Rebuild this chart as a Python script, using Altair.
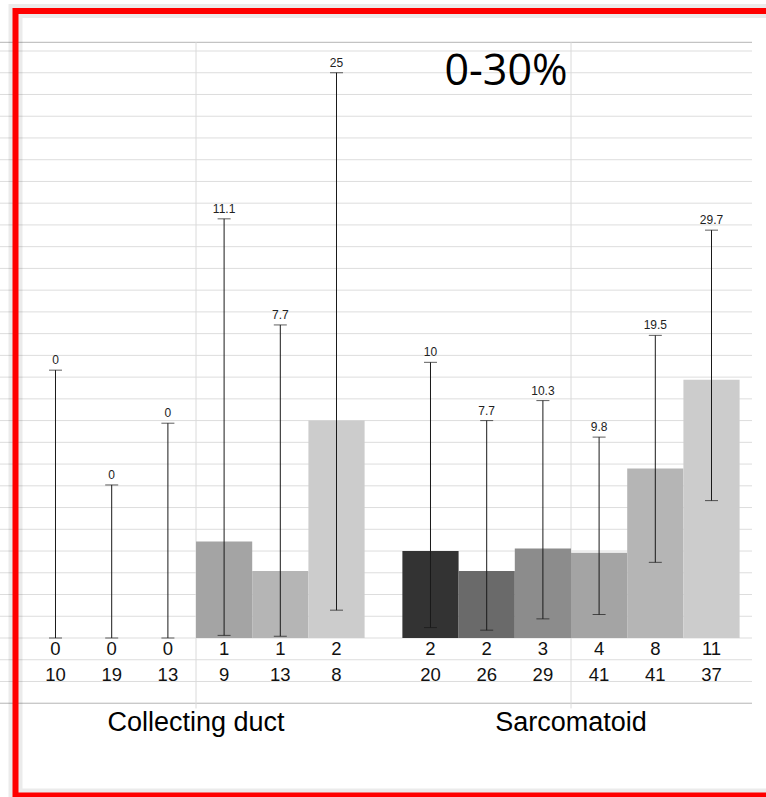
import altair as alt
import numpy as np
import pandas as pd

# Groups and per-bar values (percent, counts and 95% CI bounds)
groups = ["Collecting duct", "Sarcomatoid"]

cd_events = [0, 0, 0, 1, 1, 2]
cd_totals = [10, 19, 13, 9, 13, 8]
cd_pct = [0, 0, 0, 11.1, 7.7, 25]
cd_lo = [0, 0, 0, 0.3, 0.2, 3.2]
cd_hi = [30.8, 17.6, 24.7, 48.2, 36.0, 65.0]

sa_events = [2, 2, 3, 4, 8, 11]
sa_totals = [20, 26, 29, 41, 41, 37]
sa_pct = [10, 7.7, 10.3, 9.8, 19.5, 29.7]
sa_lo = [1.2, 0.9, 2.2, 2.7, 8.7, 15.8]
sa_hi = [31.7, 25.0, 27.3, 23.1, 34.8, 46.9]

title_text = "0-30%"

bar_colors = ["#333333", "#6a6a6a", "#8c8c8c", "#a4a4a4", "#b5b5b5", "#cccccc"]

rows = []
for g, ev, tot, pct, lo, hi in [
    (groups[0], cd_events, cd_totals, cd_pct, cd_lo, cd_hi),
    (groups[1], sa_events, sa_totals, sa_pct, sa_lo, sa_hi),
]:
    for i in range(6):
        rows.append(dict(group=g, idx=i, events=ev[i], total=tot[i],
                         pct=pct[i], lo=lo[i], hi=hi[i]))
df = pd.DataFrame(rows)

W, H = 766, 797
FONT = "Liberation Sans"

x_scale = alt.Scale(domain=groups, range=[8.5, 758.5], paddingInner=0, paddingOuter=0)
xo_scale = alt.Scale(domain=list(range(6)), paddingInner=0, paddingOuter=0.336)
y_scale = alt.Scale(domain=[0, 67.5], range=[638, 51], nice=False, zero=False)

X = alt.X("group:N", scale=x_scale, axis=None)
XO = alt.XOffset("idx:O", scale=xo_scale)

# spreadsheet-style background rules
grid_df = pd.DataFrame({"v": np.arange(-5, 67.5 + 0.01, 2.5)})
heavy_df = pd.DataFrame({"v": [68.5, -7.5]})
vline_df = pd.DataFrame({"group": groups, "top": [68.5] * 2, "bot": [-8.1] * 2})

grid = alt.Chart(grid_df).mark_rule(color="#dddddd", strokeWidth=1).encode(
    x=alt.value(0), x2=alt.value(752),
    y=alt.Y("v:Q", scale=y_scale, axis=None),
)
heavy = alt.Chart(heavy_df).mark_rule(color="#b4b4b4", strokeWidth=1).encode(
    x=alt.value(0), x2=alt.value(752),
    y=alt.Y("v:Q", scale=y_scale, axis=None),
)
vlines = alt.Chart(vline_df).mark_rule(color="#dadada", strokeWidth=1).encode(
    x=X,
    y=alt.Y("top:Q", scale=y_scale, axis=None),
    y2="bot:Q",
)

base = alt.Chart(df)

bars = base.mark_bar(strokeWidth=0).encode(
    x=X, xOffset=XO,
    y=alt.Y("pct:Q", scale=y_scale, axis=None),
    y2=alt.datum(0),
    color=alt.Color("idx:O", scale=alt.Scale(domain=list(range(6)), range=bar_colors), legend=None),
)

err = base.mark_rule(color="#1a1a1a", strokeWidth=1).encode(
    x=X, xOffset=XO,
    y=alt.Y("lo:Q", scale=y_scale, axis=None),
    y2="hi:Q",
)
cap_hi = base.mark_tick(color="#1a1a1a", thickness=1, size=13).encode(
    x=X, xOffset=XO, y=alt.Y("hi:Q", scale=y_scale, axis=None),
)
cap_lo = base.mark_tick(color="#1a1a1a", thickness=1, size=13).encode(
    x=X, xOffset=XO, y=alt.Y("lo:Q", scale=y_scale, axis=None),
)

value_labels = base.mark_text(font=FONT, fontSize=12, color="#222222",
                              baseline="alphabetic", dy=-6).encode(
    x=X, xOffset=XO,
    y=alt.Y("hi:Q", scale=y_scale, axis=None),
    text=alt.Text("pct:Q", format=".1~f"),
)

events_row = base.mark_text(font=FONT, fontSize=18.5, color="#111111",
                            baseline="alphabetic").encode(
    x=X, xOffset=XO, y=alt.value(655), text="events:Q",
)
totals_row = base.mark_text(font=FONT, fontSize=18.5, color="#111111",
                            baseline="alphabetic").encode(
    x=X, xOffset=XO, y=alt.value(681), text="total:Q",
)

group_labels = alt.Chart(pd.DataFrame({"group": groups})).mark_text(
    font=FONT, fontSize=27, color="#000000", baseline="alphabetic"
).encode(x=X, y=alt.value(731), text="group:N")

title = alt.Chart(pd.DataFrame({"t": [title_text]})).mark_text(
    font="Open Sans", fontSize=43, color="#000000", baseline="alphabetic", align="center"
).encode(x=alt.value(506), y=alt.value(85), text="t:N")

# red frame with a soft shadow
shadow = alt.Chart(pd.DataFrame({"a": [0]})).mark_rect(
    fillOpacity=0, stroke="#000000", strokeOpacity=0.08, strokeWidth=14
).encode(x=alt.value(15.5), x2=alt.value(830), y=alt.value(11), y2=alt.value(795.5))
frame = alt.Chart(pd.DataFrame({"a": [0]})).mark_rect(
    fillOpacity=0, stroke="#ff0000", strokeWidth=6
).encode(x=alt.value(15.5), x2=alt.value(830), y=alt.value(11), y2=alt.value(795.5))

chart = alt.layer(
    grid, heavy, vlines, bars, err, cap_hi, cap_lo, value_labels,
    events_row, totals_row, group_labels, title, shadow, frame,
).properties(
    width=W, height=H,
    autosize=alt.AutoSizeParams(type="none"),
    padding=0, background="#ffffff",
).configure_view(stroke=None)

chart.save("out.html", embed_options={"renderer": "svg", "actions": False})
